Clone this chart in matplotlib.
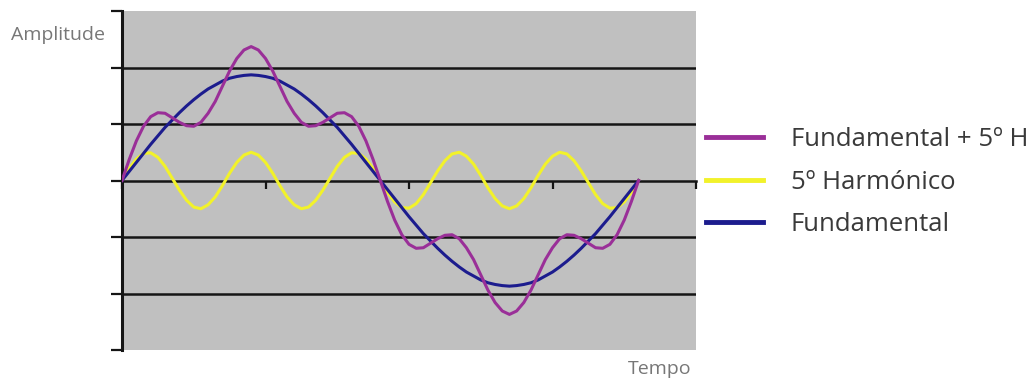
import matplotlib
matplotlib.use("Agg")
import matplotlib.pyplot as plt

W, H, DPI = 1033, 382, 100
plt.rcParams['font.family'] = ['Open Sans', 'DejaVu Sans']

# angle in degrees, one sample every 5 deg (category axis of the original sheet)
angles = list(range(0, 365, 5))

fundamental = [
    0.00, 0.16, 0.32, 0.48, 0.64, 0.79, 0.94, 1.07, 1.20, 1.32, 1.43, 1.53,
    1.62, 1.69, 1.76, 1.81, 1.84, 1.86, 1.87, 1.86, 1.84, 1.81, 1.76, 1.69,
    1.62, 1.53, 1.43, 1.32, 1.20, 1.07, 0.94, 0.79, 0.64, 0.48, 0.32, 0.16,
    0.00, -0.16, -0.32, -0.48, -0.64, -0.79, -0.94, -1.07, -1.20, -1.32, -1.43, -1.53,
    -1.62, -1.69, -1.76, -1.81, -1.84, -1.86, -1.87, -1.86, -1.84, -1.81, -1.76, -1.69,
    -1.62, -1.53, -1.43, -1.32, -1.20, -1.07, -0.94, -0.79, -0.64, -0.48, -0.32, -0.16,
    0.00]

harmonic5 = [
    0.00, 0.21, 0.38, 0.48, 0.49, 0.41, 0.25, 0.04, -0.17, -0.35, -0.47, -0.50,
    -0.43, -0.29, -0.09, 0.13, 0.32, 0.45, 0.50, 0.45, 0.32, 0.13, -0.09, -0.29,
    -0.43, -0.50, -0.47, -0.35, -0.17, 0.04, 0.25, 0.41, 0.49, 0.48, 0.38, 0.21,
    0.00, -0.21, -0.38, -0.48, -0.49, -0.41, -0.25, -0.04, 0.17, 0.35, 0.47, 0.50,
    0.43, 0.29, 0.09, -0.13, -0.32, -0.45, -0.50, -0.45, -0.32, -0.13, 0.09, 0.29,
    0.43, 0.50, 0.47, 0.35, 0.17, -0.04, -0.25, -0.41, -0.49, -0.48, -0.38, -0.21,
    0.00]

fund_plus_5h = [
    0.00, 0.37, 0.70, 0.96, 1.13, 1.20, 1.19, 1.11, 1.03, 0.97, 0.96, 1.03,
    1.19, 1.40, 1.67, 1.94, 2.16, 2.31, 2.37, 2.31, 2.16, 1.94, 1.67, 1.40,
    1.19, 1.03, 0.96, 0.97, 1.03, 1.11, 1.19, 1.20, 1.13, 0.96, 0.70, 0.37,
    0.00, -0.37, -0.70, -0.96, -1.13, -1.20, -1.19, -1.11, -1.03, -0.97, -0.96, -1.03,
    -1.19, -1.40, -1.67, -1.94, -2.16, -2.31, -2.37, -2.31, -2.16, -1.94, -1.67, -1.40,
    -1.19, -1.03, -0.96, -0.97, -1.03, -1.11, -1.19, -1.20, -1.13, -0.96, -0.70, -0.37,
    0.00]

labels = ["Fundamental + 5º H", "5º Harmónico", "Fundamental"]
colors = ["#9a2f98", "#f2f22a", "#1c1c8e"]

fig = plt.figure(figsize=(W / DPI, H / DPI), dpi=DPI)
# plot area in pixels: x 122..696, y 11..350
ax = fig.add_axes([122 / W, 1 - 350 / H, (696 - 122) / W, (350 - 11) / H])
ax.set_facecolor("#c0c0c0")

for lvl in [-2, -1, 1, 2]:
    ax.axhline(lvl, color="#151515", lw=1.8, zorder=1)

LW = 2.2
l_fund, = ax.plot(angles, fundamental, color=colors[2], lw=LW, zorder=3)
l_harm, = ax.plot(angles, harmonic5, color=colors[1], lw=LW, zorder=2)
l_sum, = ax.plot(angles, fund_plus_5h, color=colors[0], lw=LW, zorder=4)

ax.set_xlim(0, 400)
ax.set_ylim(-3, 3)
ax.set_xticks([0, 100, 200, 300, 400])
ax.set_yticks([-3, -2, -1, 0, 1, 2, 3])
ax.set_xticklabels([])
ax.set_yticklabels([])

ax.spines['top'].set_visible(False)
ax.spines['right'].set_visible(False)
ax.spines['left'].set_linewidth(2.2)
ax.spines['left'].set_color("#151515")
ax.spines['bottom'].set_position(('data', 0))
ax.spines['bottom'].set_linewidth(1.8)
ax.spines['bottom'].set_color("#151515")
ax.spines['bottom'].set_zorder(1)
ax.tick_params(axis='y', direction='out', length=8, width=1.6, color="#151515")
ax.tick_params(axis='x', direction='out', length=6, width=1.6, color="#151515")

fig.text(11 / W, 1 - 35 / H, "Amplitude", fontsize=14, color="#777777",
         ha='left', va='center')
fig.text(691 / W, 1 - 369 / H, "Tempo", fontsize=14, color="#777777",
         ha='right', va='center')

leg = fig.legend([l_sum, l_harm, l_fund], labels, loc='upper left',
                 bbox_to_anchor=(683 / W, 1 - 104 / H), frameon=False,
                 fontsize=18.5, handlelength=2.2, handletextpad=1.1,
                 labelspacing=0.68, labelcolor="#3a3a3a")
for h in leg.legend_handles:
    h.set_linewidth(3.5)

fig.savefig("out.png", dpi=DPI)
